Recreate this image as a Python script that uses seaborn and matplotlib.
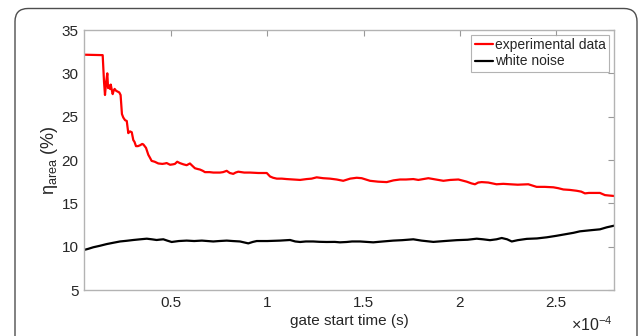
import numpy as np
import pandas as pd
import matplotlib
matplotlib.use("Agg")
import matplotlib.pyplot as plt
from matplotlib.patches import FancyBboxPatch
from matplotlib.transforms import IdentityTransform
from matplotlib.ticker import FuncFormatter
import seaborn as sns

# ---- data (x in units of 1e-4 s, y in %) ----
exp_x = [0.048, 0.145, 0.152, 0.157, 0.163, 0.169, 0.173, 0.178, 0.183, 0.187,
         0.193, 0.197, 0.202, 0.207, 0.214, 0.222, 0.231, 0.238, 0.245, 0.252,
         0.261, 0.270, 0.278, 0.287, 0.296, 0.304, 0.310, 0.318, 0.328, 0.339,
         0.350, 0.356, 0.370, 0.382, 0.392, 0.399, 0.415, 0.434, 0.455, 0.469,
         0.477, 0.495, 0.510, 0.520, 0.532, 0.545, 0.564, 0.581, 0.598, 0.612,
         0.624, 0.640, 0.650, 0.665, 0.676, 0.700, 0.720, 0.754, 0.770, 0.789,
         0.805, 0.823, 0.835, 0.849, 0.880, 0.910, 0.953, 0.997, 1.014, 1.030,
         1.049, 1.075, 1.100, 1.135, 1.170, 1.204, 1.230, 1.256, 1.290, 1.325,
         1.360, 1.394, 1.430, 1.464, 1.490, 1.533, 1.575, 1.620, 1.655, 1.689,
         1.720, 1.758, 1.784, 1.810, 1.836, 1.875, 1.914, 1.950, 1.992, 2.035,
         2.060, 2.078, 2.095, 2.113, 2.147, 2.190, 2.225, 2.260, 2.300, 2.355,
         2.398, 2.440, 2.485, 2.510, 2.537, 2.570, 2.606, 2.630, 2.649, 2.670,
         2.692, 2.727, 2.753, 2.775, 2.800]
exp_y = [32.15, 32.1, 29.0, 27.5, 29.0, 30.0, 28.3, 28.6, 28.2, 28.7,
         28.0, 27.6, 28.0, 28.2, 28.0, 27.9, 27.8, 27.5, 25.3, 24.9,
         24.6, 24.5, 23.1, 23.3, 23.2, 22.3, 22.1, 21.6, 21.6, 21.7,
         21.85, 21.8, 21.4, 20.6, 20.2, 19.9, 19.8, 19.6, 19.55, 19.6,
         19.65, 19.45, 19.5, 19.55, 19.8, 19.65, 19.5, 19.4, 19.6, 19.3,
         19.05, 18.95, 18.9, 18.75, 18.6, 18.6, 18.55, 18.55, 18.6, 18.75,
         18.5, 18.4, 18.55, 18.65, 18.55, 18.55, 18.5, 18.5, 18.1, 17.95,
         17.85, 17.85, 17.8, 17.75, 17.7, 17.8, 17.85, 18.0, 17.9, 17.85,
         17.75, 17.6, 17.85, 17.95, 17.9, 17.6, 17.5, 17.45, 17.65, 17.75,
         17.75, 17.8, 17.7, 17.8, 17.9, 17.75, 17.6, 17.7, 17.75, 17.5,
         17.3, 17.2, 17.4, 17.45, 17.4, 17.2, 17.25, 17.2, 17.15, 17.2,
         16.9, 16.9, 16.85, 16.75, 16.6, 16.55, 16.45, 16.35, 16.15, 16.2,
         16.2, 16.2, 15.95, 15.9, 15.85]

wn_x = [0.048, 0.070, 0.096, 0.130, 0.166, 0.200, 0.235, 0.270, 0.304, 0.340,
        0.374, 0.400, 0.425, 0.445, 0.460, 0.480, 0.503, 0.540, 0.581, 0.620,
        0.660, 0.719, 0.750, 0.789, 0.820, 0.858, 0.901, 0.925, 0.945, 1.000,
        1.066, 1.118, 1.145, 1.170, 1.200, 1.238, 1.270, 1.308, 1.350, 1.377,
        1.412, 1.440, 1.481, 1.515, 1.550, 1.600, 1.654, 1.700, 1.758, 1.800,
        1.862, 1.920, 1.983, 2.040, 2.087, 2.120, 2.156, 2.190, 2.217, 2.245,
        2.269, 2.300, 2.347, 2.400, 2.451, 2.500, 2.554, 2.590, 2.623, 2.680,
        2.727, 2.762, 2.800]
wn_y = [9.62, 9.75, 9.93, 10.1, 10.3, 10.45, 10.6, 10.68, 10.77, 10.85,
        10.92, 10.85, 10.77, 10.82, 10.85, 10.7, 10.54, 10.65, 10.7, 10.65,
        10.7, 10.6, 10.65, 10.7, 10.65, 10.6, 10.38, 10.55, 10.65, 10.65,
        10.7, 10.77, 10.6, 10.54, 10.6, 10.6, 10.56, 10.54, 10.55, 10.5,
        10.54, 10.6, 10.6, 10.55, 10.5, 10.6, 10.7, 10.75, 10.85, 10.7,
        10.55, 10.65, 10.75, 10.8, 10.92, 10.85, 10.75, 10.85, 11.0, 10.85,
        10.6, 10.75, 10.9, 10.95, 11.08, 11.25, 11.46, 11.6, 11.77, 11.9,
        12.0, 12.23, 12.42]

x_ticks = [0.5, 1, 1.5, 2, 2.5]
y_ticks = [5, 10, 15, 20, 25, 30, 35]
series_labels = ["experimental data", "white noise"]

# ---- style ----
sns.set_style("white")
plt.rcParams["font.family"] = ["Liberation Sans", "DejaVu Sans"]
plt.rcParams["mathtext.default"] = "regular"

W, H, DPI = 638, 336, 100
fig = plt.figure(figsize=(W / DPI, H / DPI), dpi=DPI)
ax = fig.add_axes([84 / W, 1 - 290 / H, (614 - 84) / W, (290 - 30) / H])

df_exp = pd.DataFrame({"t": exp_x, "eta": exp_y})
df_wn = pd.DataFrame({"t": wn_x, "eta": wn_y})
sns.lineplot(data=df_exp, x="t", y="eta", ax=ax, color="#ff0000", lw=1.6,
             label=series_labels[0], sort=False, estimator=None)
sns.lineplot(data=df_wn, x="t", y="eta", ax=ax, color="#000000", lw=1.6,
             label=series_labels[1], sort=False, estimator=None)

ax.set_xlim(0.048, 2.80)
ax.set_ylim(5, 35)
ax.set_xticks(x_ticks)
ax.set_yticks(y_ticks)
ax.xaxis.set_major_formatter(FuncFormatter(lambda v, p: f"{v:g}"))
ax.yaxis.set_major_formatter(FuncFormatter(lambda v, p: f"{v:g}"))

spine_col = "#b3b3b3"
for s in ax.spines.values():
    s.set_visible(True)
    s.set_color(spine_col)
    s.set_linewidth(1.0)
ax.tick_params(direction="in", length=4, width=0.8, color="#999999",
               top=True, right=True, labelsize=11, labelcolor="#262626", pad=4)

ax.set_xlabel("gate start time (s)", fontsize=11, color="#262626", labelpad=3)
ax.set_ylabel("η$_{area}$ (%)", fontsize=13, color="#262626", labelpad=1)

fig.text(613 / W, 1 - 331 / H, "×10$^{-4}$", fontsize=11.5, color="#262626",
         ha="right", va="baseline")

leg = ax.legend(loc="upper right", fontsize=10, frameon=True, fancybox=False,
                handlelength=1.3, handletextpad=0.15, borderpad=0.25,
                labelspacing=0.15, borderaxespad=0.35, edgecolor="#a0a0a0")
leg.get_frame().set_linewidth(0.8)
for t in leg.get_texts():
    t.set_color("#262626")

# rounded outer frame (figure panel border)
frame = FancyBboxPatch((15, -30), 622, 336 - 8.5 + 30,
                       boxstyle="round,pad=0,rounding_size=13",
                       transform=IdentityTransform(), fill=False,
                       edgecolor="#4d4d4d", linewidth=1.0)
fig.patches.append(frame)

fig.savefig("out.png", dpi=DPI)
